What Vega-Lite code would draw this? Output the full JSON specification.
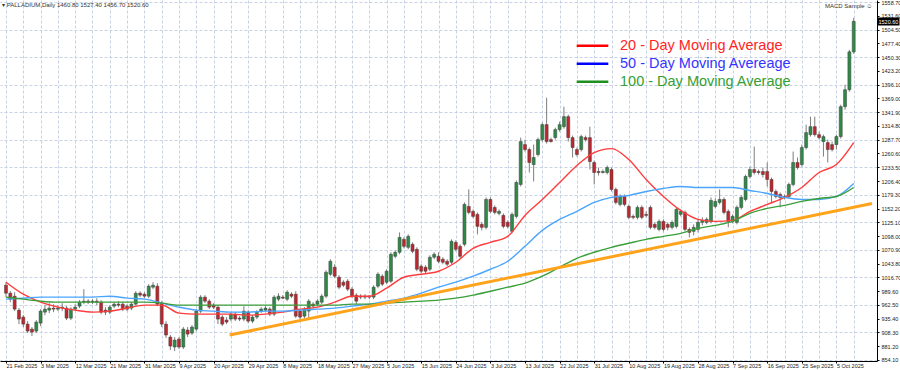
{
 "$schema": "https://vega.github.io/schema/vega-lite/v6.json",
 "width": 877,
 "height": 361,
 "autosize": "none",
 "padding": {"left": 0, "top": 0, "right": 23, "bottom": 9},
 "background": "white",
 "config": {"view": {"stroke": null}, "font": "Liberation Sans"},
 "title": {"text": "▾ PALLADIUM,Daily  1460.80 1527.40 1456.70 1520.60", "anchor": "start", "offset": -8, "fontSize": 6, "fontWeight": "normal", "color": "#333333", "dx": 2},
 "datasets": {
  "bars": [
   {"i":0,"d":"02-21","o":1001.3,"h":1007.2,"l":977.8,"c":985.6},
   {"i":1,"d":"02-23","o":985.6,"h":989.5,"l":967.9,"c":973.8},
   {"i":2,"d":"02-24","o":979.7,"h":987.6,"l":950.3,"c":954.2},
   {"i":3,"d":"02-25","o":952.2,"h":956.2,"l":924.7,"c":934.6},
   {"i":4,"d":"02-26","o":938.5,"h":942.4,"l":918.9,"c":924.7},
   {"i":5,"d":"02-27","o":924.7,"h":930.6,"l":907.1,"c":911.0},
   {"i":6,"d":"02-28","o":914.9,"h":918.9,"l":901.2,"c":909.0},
   {"i":7,"d":"03-02","o":911.0,"h":932.6,"l":907.1,"c":928.7},
   {"i":8,"d":"03-03","o":926.7,"h":954.2,"l":920.8,"c":950.3},
   {"i":9,"d":"03-04","o":948.3,"h":962.0,"l":942.4,"c":954.2},
   {"i":10,"d":"03-05","o":952.2,"h":966.0,"l":946.3,"c":956.2},
   {"i":11,"d":"03-06","o":956.2,"h":964.0,"l":948.3,"c":954.2},
   {"i":12,"d":"03-07","o":954.2,"h":962.0,"l":950.3,"c":956.2},
   {"i":13,"d":"03-09","o":956.2,"h":966.0,"l":950.3,"c":958.1},
   {"i":14,"d":"03-10","o":956.2,"h":960.1,"l":932.6,"c":936.5},
   {"i":15,"d":"03-11","o":936.5,"h":958.1,"l":932.6,"c":954.2},
   {"i":16,"d":"03-12","o":954.2,"h":964.0,"l":950.3,"c":958.1},
   {"i":17,"d":"03-13","o":960.1,"h":971.9,"l":956.2,"c":967.9},
   {"i":18,"d":"03-14","o":967.9,"h":993.5,"l":964.0,"c":969.9},
   {"i":19,"d":"03-16","o":969.9,"h":973.8,"l":964.0,"c":967.9},
   {"i":20,"d":"03-17","o":967.9,"h":973.8,"l":964.0,"c":969.9},
   {"i":21,"d":"03-18","o":969.9,"h":975.8,"l":962.0,"c":967.9},
   {"i":22,"d":"03-19","o":967.9,"h":971.9,"l":944.4,"c":948.3},
   {"i":23,"d":"03-20","o":952.2,"h":958.1,"l":942.4,"c":948.3},
   {"i":24,"d":"03-21","o":948.3,"h":962.0,"l":944.4,"c":958.1},
   {"i":25,"d":"03-23","o":960.1,"h":967.9,"l":956.2,"c":964.0},
   {"i":26,"d":"03-24","o":964.0,"h":969.9,"l":958.1,"c":962.0},
   {"i":27,"d":"03-25","o":964.0,"h":967.9,"l":950.3,"c":954.2},
   {"i":28,"d":"03-26","o":960.1,"h":964.0,"l":950.3,"c":954.2},
   {"i":29,"d":"03-27","o":956.2,"h":967.9,"l":952.2,"c":964.0},
   {"i":30,"d":"03-28","o":964.0,"h":989.5,"l":962.0,"c":985.6},
   {"i":31,"d":"03-30","o":985.6,"h":989.5,"l":977.8,"c":981.7},
   {"i":32,"d":"03-31","o":983.6,"h":987.6,"l":975.8,"c":979.7},
   {"i":33,"d":"04-01","o":979.7,"h":1003.3,"l":975.8,"c":999.4},
   {"i":34,"d":"04-02","o":997.4,"h":1007.2,"l":993.5,"c":1001.3},
   {"i":35,"d":"04-03","o":999.4,"h":1005.3,"l":960.1,"c":964.0},
   {"i":36,"d":"04-04","o":966.0,"h":969.9,"l":918.9,"c":924.7},
   {"i":37,"d":"04-06","o":924.7,"h":930.6,"l":897.3,"c":903.2},
   {"i":38,"d":"04-07","o":899.2,"h":903.2,"l":873.7,"c":881.5},
   {"i":39,"d":"04-08","o":879.6,"h":899.2,"l":871.7,"c":893.3},
   {"i":40,"d":"04-09","o":895.3,"h":899.2,"l":875.7,"c":879.6},
   {"i":41,"d":"04-10","o":879.6,"h":918.9,"l":875.7,"c":914.9},
   {"i":42,"d":"04-11","o":913.0,"h":918.9,"l":899.2,"c":905.1},
   {"i":43,"d":"04-13","o":907.1,"h":922.8,"l":903.2,"c":918.9},
   {"i":44,"d":"04-14","o":914.9,"h":954.2,"l":911.0,"c":950.3},
   {"i":45,"d":"04-15","o":950.3,"h":981.7,"l":946.3,"c":977.8},
   {"i":46,"d":"04-16","o":977.8,"h":981.7,"l":966.0,"c":969.9},
   {"i":47,"d":"04-17","o":969.9,"h":973.8,"l":954.2,"c":958.1},
   {"i":48,"d":"04-20","o":962.0,"h":966.0,"l":954.2,"c":958.1},
   {"i":49,"d":"04-21","o":958.1,"h":962.0,"l":924.7,"c":934.6},
   {"i":50,"d":"04-22","o":938.5,"h":942.4,"l":920.8,"c":924.7},
   {"i":51,"d":"04-23","o":932.6,"h":938.5,"l":924.7,"c":928.7},
   {"i":52,"d":"04-24","o":934.6,"h":948.3,"l":930.6,"c":944.4},
   {"i":53,"d":"04-25","o":944.4,"h":948.3,"l":930.6,"c":934.6},
   {"i":54,"d":"04-27","o":936.5,"h":940.4,"l":930.6,"c":934.6},
   {"i":55,"d":"04-28","o":934.6,"h":960.1,"l":930.6,"c":950.3},
   {"i":56,"d":"04-29","o":948.3,"h":952.2,"l":926.7,"c":930.6},
   {"i":57,"d":"04-30","o":930.6,"h":942.4,"l":926.7,"c":938.5},
   {"i":58,"d":"05-01","o":938.5,"h":952.2,"l":934.6,"c":948.3},
   {"i":59,"d":"05-02","o":950.3,"h":958.1,"l":946.3,"c":954.2},
   {"i":60,"d":"05-04","o":952.2,"h":960.1,"l":948.3,"c":956.2},
   {"i":61,"d":"05-05","o":954.2,"h":958.1,"l":940.4,"c":944.4},
   {"i":62,"d":"05-06","o":944.4,"h":981.7,"l":940.4,"c":977.8},
   {"i":63,"d":"05-07","o":973.8,"h":985.6,"l":969.9,"c":979.7},
   {"i":64,"d":"05-08","o":977.8,"h":981.7,"l":973.8,"c":975.8},
   {"i":65,"d":"05-09","o":973.8,"h":991.5,"l":969.9,"c":987.6},
   {"i":66,"d":"05-11","o":983.6,"h":987.6,"l":975.8,"c":979.7},
   {"i":67,"d":"05-12","o":983.6,"h":989.5,"l":936.5,"c":940.4},
   {"i":68,"d":"05-13","o":950.3,"h":954.2,"l":932.6,"c":938.5},
   {"i":69,"d":"05-14","o":940.4,"h":958.1,"l":936.5,"c":954.2},
   {"i":70,"d":"05-15","o":950.3,"h":973.8,"l":934.6,"c":969.9},
   {"i":71,"d":"05-16","o":964.0,"h":967.9,"l":956.2,"c":960.1},
   {"i":72,"d":"05-18","o":964.0,"h":973.8,"l":960.1,"c":969.9},
   {"i":73,"d":"05-19","o":967.9,"h":983.6,"l":964.0,"c":979.7},
   {"i":74,"d":"05-20","o":979.7,"h":1030.8,"l":975.8,"c":1026.8},
   {"i":75,"d":"05-21","o":1022.9,"h":1052.4,"l":1019.0,"c":1048.4},
   {"i":76,"d":"05-22","o":1036.7,"h":1042.6,"l":1015.1,"c":1019.0},
   {"i":77,"d":"05-23","o":1017.0,"h":1021.0,"l":993.5,"c":997.4},
   {"i":78,"d":"05-25","o":1007.2,"h":1011.2,"l":997.4,"c":1001.3},
   {"i":79,"d":"05-26","o":1009.2,"h":1013.1,"l":989.5,"c":993.5},
   {"i":80,"d":"05-27","o":993.5,"h":997.4,"l":975.8,"c":979.7},
   {"i":81,"d":"05-28","o":981.7,"h":985.6,"l":964.0,"c":969.9},
   {"i":82,"d":"05-29","o":979.7,"h":983.6,"l":973.8,"c":977.8},
   {"i":83,"d":"05-30","o":977.8,"h":983.6,"l":973.8,"c":979.7},
   {"i":84,"d":"06-01","o":979.7,"h":981.7,"l":973.8,"c":977.8},
   {"i":85,"d":"06-02","o":977.8,"h":1001.3,"l":973.8,"c":997.4},
   {"i":86,"d":"06-03","o":999.4,"h":1026.8,"l":995.4,"c":1022.9},
   {"i":87,"d":"06-04","o":1019.0,"h":1022.9,"l":999.4,"c":1003.3},
   {"i":88,"d":"06-05","o":1007.2,"h":1032.7,"l":1003.3,"c":1028.8},
   {"i":89,"d":"06-06","o":1009.2,"h":1066.1,"l":1005.3,"c":1062.2},
   {"i":90,"d":"06-08","o":1058.2,"h":1070.0,"l":1054.3,"c":1066.1},
   {"i":91,"d":"06-09","o":1066.1,"h":1105.3,"l":1062.2,"c":1095.5},
   {"i":92,"d":"06-10","o":1091.6,"h":1095.5,"l":1073.9,"c":1077.9},
   {"i":93,"d":"06-11","o":1075.9,"h":1101.4,"l":1072.0,"c":1097.5},
   {"i":94,"d":"06-12","o":1081.8,"h":1085.7,"l":1064.1,"c":1068.1},
   {"i":95,"d":"06-13","o":1072.0,"h":1075.9,"l":1028.8,"c":1032.7},
   {"i":96,"d":"06-15","o":1038.6,"h":1042.6,"l":1024.9,"c":1028.8},
   {"i":97,"d":"06-16","o":1036.7,"h":1040.6,"l":1024.9,"c":1028.8},
   {"i":98,"d":"06-17","o":1032.7,"h":1060.2,"l":1028.8,"c":1056.3},
   {"i":99,"d":"06-18","o":1056.3,"h":1066.1,"l":1052.4,"c":1062.2},
   {"i":100,"d":"06-19","o":1058.2,"h":1066.1,"l":1044.5,"c":1048.4},
   {"i":101,"d":"06-20","o":1052.4,"h":1056.3,"l":1042.6,"c":1046.5},
   {"i":102,"d":"06-22","o":1048.4,"h":1052.4,"l":1038.6,"c":1042.6},
   {"i":103,"d":"06-23","o":1046.5,"h":1091.6,"l":1042.6,"c":1087.7},
   {"i":104,"d":"06-24","o":1085.7,"h":1089.7,"l":1068.1,"c":1072.0},
   {"i":105,"d":"06-25","o":1077.9,"h":1081.8,"l":1054.3,"c":1058.2},
   {"i":106,"d":"06-26","o":1081.8,"h":1164.2,"l":1077.9,"c":1160.3},
   {"i":107,"d":"06-27","o":1156.4,"h":1189.8,"l":1140.7,"c":1144.6},
   {"i":108,"d":"06-29","o":1146.6,"h":1150.5,"l":1132.8,"c":1136.8},
   {"i":109,"d":"06-30","o":1140.7,"h":1144.6,"l":1101.4,"c":1117.1},
   {"i":110,"d":"07-01","o":1121.1,"h":1125.0,"l":1109.3,"c":1115.2},
   {"i":111,"d":"07-02","o":1115.2,"h":1174.1,"l":1111.2,"c":1170.1},
   {"i":112,"d":"07-03","o":1170.1,"h":1174.1,"l":1142.7,"c":1146.6},
   {"i":113,"d":"07-04","o":1154.4,"h":1158.4,"l":1140.7,"c":1144.6},
   {"i":114,"d":"07-06","o":1142.7,"h":1150.5,"l":1138.7,"c":1146.6},
   {"i":115,"d":"07-07","o":1138.7,"h":1142.7,"l":1113.2,"c":1117.1},
   {"i":116,"d":"07-08","o":1125.0,"h":1128.9,"l":1113.2,"c":1117.1},
   {"i":117,"d":"07-09","o":1107.3,"h":1144.6,"l":1103.4,"c":1140.7},
   {"i":118,"d":"07-10","o":1136.8,"h":1207.4,"l":1132.8,"c":1203.5},
   {"i":119,"d":"07-11","o":1199.6,"h":1291.8,"l":1195.7,"c":1284.0},
   {"i":120,"d":"07-13","o":1278.1,"h":1287.9,"l":1264.4,"c":1268.3},
   {"i":121,"d":"07-14","o":1268.3,"h":1272.2,"l":1223.1,"c":1242.8},
   {"i":122,"d":"07-15","o":1238.8,"h":1278.1,"l":1205.5,"c":1252.6},
   {"i":123,"d":"07-16","o":1258.5,"h":1291.8,"l":1254.5,"c":1287.9},
   {"i":124,"d":"07-17","o":1287.9,"h":1321.3,"l":1284.0,"c":1317.4},
   {"i":125,"d":"07-18","o":1317.4,"h":1370.4,"l":1280.1,"c":1284.0},
   {"i":126,"d":"07-20","o":1287.9,"h":1291.8,"l":1282.0,"c":1284.0},
   {"i":127,"d":"07-21","o":1291.8,"h":1311.5,"l":1287.9,"c":1307.6},
   {"i":128,"d":"07-22","o":1307.6,"h":1323.3,"l":1303.6,"c":1317.4},
   {"i":129,"d":"07-23","o":1313.4,"h":1352.7,"l":1309.5,"c":1333.1},
   {"i":130,"d":"07-24","o":1333.1,"h":1337.0,"l":1284.0,"c":1291.8},
   {"i":131,"d":"07-25","o":1291.8,"h":1295.8,"l":1252.6,"c":1272.2},
   {"i":132,"d":"07-27","o":1268.3,"h":1272.2,"l":1254.5,"c":1258.5},
   {"i":133,"d":"07-28","o":1268.3,"h":1297.7,"l":1264.4,"c":1293.8},
   {"i":134,"d":"07-29","o":1291.8,"h":1295.8,"l":1284.0,"c":1287.9},
   {"i":135,"d":"07-30","o":1291.8,"h":1313.4,"l":1229.0,"c":1244.7},
   {"i":136,"d":"07-31","o":1242.8,"h":1246.7,"l":1199.6,"c":1223.1},
   {"i":137,"d":"08-01","o":1225.1,"h":1232.9,"l":1217.3,"c":1223.1},
   {"i":138,"d":"08-03","o":1223.1,"h":1229.0,"l":1221.2,"c":1225.1},
   {"i":139,"d":"08-04","o":1223.1,"h":1236.9,"l":1219.2,"c":1232.9},
   {"i":140,"d":"08-05","o":1229.0,"h":1232.9,"l":1185.8,"c":1189.8},
   {"i":141,"d":"08-06","o":1189.8,"h":1193.7,"l":1160.3,"c":1164.2},
   {"i":142,"d":"08-07","o":1160.3,"h":1180.0,"l":1156.4,"c":1176.0},
   {"i":143,"d":"08-08","o":1176.0,"h":1180.0,"l":1156.4,"c":1160.3},
   {"i":144,"d":"08-10","o":1156.4,"h":1160.3,"l":1130.9,"c":1134.8},
   {"i":145,"d":"08-11","o":1136.8,"h":1140.7,"l":1130.9,"c":1134.8},
   {"i":146,"d":"08-12","o":1134.8,"h":1158.4,"l":1130.9,"c":1154.4},
   {"i":147,"d":"08-13","o":1154.4,"h":1158.4,"l":1130.9,"c":1134.8},
   {"i":148,"d":"08-14","o":1140.7,"h":1146.6,"l":1134.8,"c":1138.7},
   {"i":149,"d":"08-15","o":1154.4,"h":1158.4,"l":1111.2,"c":1115.2},
   {"i":150,"d":"08-17","o":1121.1,"h":1125.0,"l":1111.2,"c":1115.2},
   {"i":151,"d":"08-18","o":1111.2,"h":1130.9,"l":1107.3,"c":1126.9},
   {"i":152,"d":"08-19","o":1126.9,"h":1130.9,"l":1107.3,"c":1111.2},
   {"i":153,"d":"08-20","o":1121.1,"h":1125.0,"l":1109.3,"c":1115.2},
   {"i":154,"d":"08-21","o":1115.2,"h":1128.9,"l":1111.2,"c":1125.0},
   {"i":155,"d":"08-22","o":1117.1,"h":1154.4,"l":1113.2,"c":1150.5},
   {"i":156,"d":"08-24","o":1140.7,"h":1150.5,"l":1136.8,"c":1146.6},
   {"i":157,"d":"08-25","o":1144.6,"h":1148.5,"l":1107.3,"c":1111.2},
   {"i":158,"d":"08-26","o":1111.2,"h":1115.2,"l":1095.5,"c":1105.3},
   {"i":159,"d":"08-27","o":1107.3,"h":1121.1,"l":1099.5,"c":1115.2},
   {"i":160,"d":"08-28","o":1111.2,"h":1130.9,"l":1105.3,"c":1125.0},
   {"i":161,"d":"08-29","o":1125.0,"h":1134.8,"l":1119.1,"c":1128.9},
   {"i":162,"d":"08-31","o":1125.0,"h":1134.8,"l":1121.1,"c":1130.9},
   {"i":163,"d":"09-01","o":1126.9,"h":1174.1,"l":1123.0,"c":1168.2},
   {"i":164,"d":"09-02","o":1156.4,"h":1172.1,"l":1152.5,"c":1166.2},
   {"i":165,"d":"09-03","o":1164.2,"h":1189.8,"l":1160.3,"c":1170.1},
   {"i":166,"d":"09-04","o":1170.1,"h":1174.1,"l":1140.7,"c":1144.6},
   {"i":167,"d":"09-05","o":1146.6,"h":1150.5,"l":1115.2,"c":1126.9},
   {"i":168,"d":"09-07","o":1126.9,"h":1140.7,"l":1123.0,"c":1136.8},
   {"i":169,"d":"09-08","o":1125.0,"h":1158.4,"l":1121.1,"c":1154.4},
   {"i":170,"d":"09-09","o":1154.4,"h":1178.0,"l":1150.5,"c":1174.1},
   {"i":171,"d":"09-10","o":1170.1,"h":1219.2,"l":1166.2,"c":1215.3},
   {"i":172,"d":"09-11","o":1215.3,"h":1234.9,"l":1211.4,"c":1229.0},
   {"i":173,"d":"09-12","o":1229.0,"h":1274.2,"l":1219.2,"c":1223.1},
   {"i":174,"d":"09-14","o":1225.1,"h":1229.0,"l":1219.2,"c":1223.1},
   {"i":175,"d":"09-15","o":1225.1,"h":1232.9,"l":1213.3,"c":1219.2},
   {"i":176,"d":"09-16","o":1225.1,"h":1242.8,"l":1195.7,"c":1209.4},
   {"i":177,"d":"09-17","o":1209.4,"h":1213.3,"l":1164.2,"c":1185.8},
   {"i":178,"d":"09-18","o":1185.8,"h":1189.8,"l":1172.1,"c":1176.0},
   {"i":179,"d":"09-19","o":1180.0,"h":1183.9,"l":1154.4,"c":1174.1},
   {"i":180,"d":"09-21","o":1174.1,"h":1180.0,"l":1170.1,"c":1176.0},
   {"i":181,"d":"09-22","o":1176.0,"h":1203.5,"l":1172.1,"c":1199.6},
   {"i":182,"d":"09-23","o":1199.6,"h":1264.4,"l":1195.7,"c":1242.8},
   {"i":183,"d":"09-24","o":1242.8,"h":1252.6,"l":1229.0,"c":1232.9},
   {"i":184,"d":"09-25","o":1238.8,"h":1278.1,"l":1234.9,"c":1272.2},
   {"i":185,"d":"09-26","o":1272.2,"h":1317.4,"l":1268.3,"c":1301.7},
   {"i":186,"d":"09-28","o":1297.7,"h":1333.1,"l":1293.8,"c":1313.4},
   {"i":187,"d":"09-29","o":1313.4,"h":1333.1,"l":1293.8,"c":1297.7},
   {"i":188,"d":"09-30","o":1297.7,"h":1303.6,"l":1287.9,"c":1291.8},
   {"i":189,"d":"10-01","o":1284.0,"h":1297.7,"l":1254.5,"c":1293.8},
   {"i":190,"d":"10-02","o":1282.0,"h":1287.9,"l":1242.8,"c":1268.3},
   {"i":191,"d":"10-03","o":1278.1,"h":1284.0,"l":1264.4,"c":1268.3},
   {"i":192,"d":"10-05","o":1278.1,"h":1297.7,"l":1268.3,"c":1293.8},
   {"i":193,"d":"10-06","o":1293.8,"h":1356.6,"l":1289.9,"c":1352.7},
   {"i":194,"d":"10-07","o":1352.7,"h":1395.9,"l":1346.8,"c":1386.1},
   {"i":195,"d":"10-08","o":1386.1,"h":1464.6,"l":1382.1,"c":1460.7},
   {"i":196,"d":"10-09","o":1460.7,"h":1527.4,"l":1456.7,"c":1520.6}
  ],
  "ma": [
   {"i":0,"s":"20","v":1007.2},{"i":4,"s":"20","v":983.6},{"i":8,"s":"20","v":967.9},{"i":12,"s":"20","v":958.1},{"i":16,"s":"20","v":952.2},{"i":20,"s":"20","v":948.3},{"i":24,"s":"20","v":950.3},{"i":28,"s":"20","v":956.2},{"i":32,"s":"20","v":962.0},{"i":36,"s":"20","v":962.0},{"i":40,"s":"20","v":946.3},{"i":44,"s":"20","v":944.4},{"i":48,"s":"20","v":944.4},{"i":52,"s":"20","v":944.4},{"i":56,"s":"20","v":942.4},{"i":60,"s":"20","v":944.4},{"i":64,"s":"20","v":948.3},{"i":68,"s":"20","v":954.2},{"i":72,"s":"20","v":958.1},{"i":76,"s":"20","v":967.9},{"i":80,"s":"20","v":979.7},{"i":84,"s":"20","v":979.7},{"i":88,"s":"20","v":995.4},{"i":92,"s":"20","v":1017.0},{"i":96,"s":"20","v":1022.9},{"i":100,"s":"20","v":1028.8},{"i":104,"s":"20","v":1046.5},{"i":108,"s":"20","v":1073.9},{"i":112,"s":"20","v":1085.7},{"i":116,"s":"20","v":1097.5},{"i":120,"s":"20","v":1138.7},{"i":124,"s":"20","v":1170.1},{"i":128,"s":"20","v":1203.5},{"i":132,"s":"20","v":1236.9},{"i":136,"s":"20","v":1262.4},{"i":140,"s":"20","v":1270.2},{"i":144,"s":"20","v":1248.7},{"i":148,"s":"20","v":1209.4},{"i":152,"s":"20","v":1176.0},{"i":156,"s":"20","v":1148.5},{"i":160,"s":"20","v":1130.9},{"i":164,"s":"20","v":1126.9},{"i":168,"s":"20","v":1128.9},{"i":172,"s":"20","v":1146.6},{"i":176,"s":"20","v":1160.3},{"i":180,"s":"20","v":1174.1},{"i":184,"s":"20","v":1193.7},{"i":188,"s":"20","v":1223.1},{"i":192,"s":"20","v":1238.8},{"i":196,"s":"20","v":1282.0},
   {"i":0,"s":"50","v":973.8},{"i":4,"s":"50","v":975.8},{"i":8,"s":"50","v":977.8},{"i":12,"s":"50","v":977.8},{"i":16,"s":"50","v":977.8},{"i":20,"s":"50","v":977.8},{"i":24,"s":"50","v":979.7},{"i":28,"s":"50","v":975.8},{"i":32,"s":"50","v":973.8},{"i":36,"s":"50","v":966.0},{"i":40,"s":"50","v":958.1},{"i":44,"s":"50","v":952.2},{"i":48,"s":"50","v":950.3},{"i":52,"s":"50","v":948.3},{"i":56,"s":"50","v":948.3},{"i":60,"s":"50","v":950.3},{"i":64,"s":"50","v":950.3},{"i":68,"s":"50","v":952.2},{"i":72,"s":"50","v":954.2},{"i":76,"s":"50","v":956.2},{"i":80,"s":"50","v":960.1},{"i":84,"s":"50","v":964.0},{"i":88,"s":"50","v":969.9},{"i":92,"s":"50","v":975.8},{"i":96,"s":"50","v":985.6},{"i":100,"s":"50","v":997.4},{"i":104,"s":"50","v":1007.2},{"i":108,"s":"50","v":1019.0},{"i":112,"s":"50","v":1032.7},{"i":116,"s":"50","v":1048.4},{"i":120,"s":"50","v":1077.9},{"i":124,"s":"50","v":1109.3},{"i":128,"s":"50","v":1130.9},{"i":132,"s":"50","v":1146.6},{"i":136,"s":"50","v":1164.2},{"i":140,"s":"50","v":1174.1},{"i":144,"s":"50","v":1178.0},{"i":148,"s":"50","v":1185.8},{"i":152,"s":"50","v":1191.7},{"i":156,"s":"50","v":1195.7},{"i":160,"s":"50","v":1193.7},{"i":164,"s":"50","v":1193.7},{"i":168,"s":"50","v":1193.7},{"i":172,"s":"50","v":1187.8},{"i":176,"s":"50","v":1181.9},{"i":180,"s":"50","v":1174.1},{"i":184,"s":"50","v":1170.1},{"i":188,"s":"50","v":1170.1},{"i":192,"s":"50","v":1176.0},{"i":196,"s":"50","v":1201.6},
   {"i":0,"s":"100","v":977.8},{"i":4,"s":"100","v":973.8},{"i":8,"s":"100","v":969.9},{"i":12,"s":"100","v":967.9},{"i":16,"s":"100","v":967.9},{"i":20,"s":"100","v":967.9},{"i":24,"s":"100","v":967.9},{"i":28,"s":"100","v":967.9},{"i":32,"s":"100","v":967.9},{"i":36,"s":"100","v":966.0},{"i":40,"s":"100","v":962.0},{"i":44,"s":"100","v":962.0},{"i":48,"s":"100","v":962.0},{"i":52,"s":"100","v":962.0},{"i":56,"s":"100","v":962.0},{"i":60,"s":"100","v":962.0},{"i":64,"s":"100","v":962.0},{"i":68,"s":"100","v":962.0},{"i":72,"s":"100","v":962.0},{"i":76,"s":"100","v":962.0},{"i":80,"s":"100","v":964.0},{"i":84,"s":"100","v":964.0},{"i":88,"s":"100","v":966.0},{"i":92,"s":"100","v":967.9},{"i":96,"s":"100","v":969.9},{"i":100,"s":"100","v":971.9},{"i":104,"s":"100","v":975.8},{"i":108,"s":"100","v":981.7},{"i":112,"s":"100","v":989.5},{"i":116,"s":"100","v":997.4},{"i":120,"s":"100","v":1005.3},{"i":124,"s":"100","v":1019.0},{"i":128,"s":"100","v":1036.7},{"i":132,"s":"100","v":1054.3},{"i":136,"s":"100","v":1066.1},{"i":140,"s":"100","v":1075.9},{"i":144,"s":"100","v":1083.8},{"i":148,"s":"100","v":1091.6},{"i":152,"s":"100","v":1097.5},{"i":156,"s":"100","v":1103.4},{"i":160,"s":"100","v":1113.2},{"i":164,"s":"100","v":1119.1},{"i":168,"s":"100","v":1126.9},{"i":172,"s":"100","v":1142.7},{"i":176,"s":"100","v":1152.5},{"i":180,"s":"100","v":1158.4},{"i":184,"s":"100","v":1166.2},{"i":188,"s":"100","v":1172.1},{"i":192,"s":"100","v":1176.0},{"i":196,"s":"100","v":1193.7}
  ],
  "trend": [
   {"i": 51.7, "v": 903.2},
   {"i": 200.23, "v": 1162.3}
  ]
 },
 "layer": [
  {
   "data": {"name": "bars"},
   "mark": {"type": "rule", "color": "#7d7d7d", "strokeWidth": 1},
   "encoding": {
    "x": {"field": "i", "type": "quantitative",
     "scale": {"domain": [-0.23, 200.23], "nice": false, "zero": false},
     "axis": {"orient": "bottom", "title": null,
      "values": [0,4,8,12,16,20,24,28,32,36,40,44,48,52,56,60,64,68,72,76,80,84,88,92,96,100,104,108,112,116,120,124,128,132,136,140,144,148,152,156,160,164,168,172,176,180,184,188,192,196],
      "grid": true, "gridColor": "#c6d1e3", "gridDash": [3, 2], "gridWidth": 1,
      "domainColor": "#000000", "domainWidth": 1,
      "tickColor": "#000000", "tickSize": 2,
      "tickOpacity": {"condition": {"test": "datum.value % 8 === 0", "value": 1}, "value": 0},
      "labelExpr": "datum.value % 8 === 0 ? ['21 Feb 2025','3 Mar 2025','12 Mar 2025','21 Mar 2025','31 Mar 2025','9 Apr 2025','20 Apr 2025','29 Apr 2025','8 May 2025','18 May 2025','27 May 2025','5 Jun 2025','15 Jun 2025','24 Jun 2025','3 Jul 2025','13 Jul 2025','22 Jul 2025','31 Jul 2025','10 Aug 2025','19 Aug 2025','28 Aug 2025','7 Sep 2025','16 Sep 2025','25 Sep 2025','5 Oct 2025'][datum.value / 8] : ''",
      "labelAlign": "left", "labelBaseline": "top", "labelPadding": 0,
      "labelFontSize": 5.5, "labelColor": "#222222",
      "labelOverlap": false, "labelBound": false, "labelFlush": false}
    },
    "y": {"field": "l", "type": "quantitative",
     "scale": {"domain": [852.1, 1562.7], "nice": false, "zero": false},
     "axis": {"orient": "right", "title": null,
      "values": [854.1, 881.2, 908.3, 935.4, 962.5, 989.6, 1016.7, 1043.8, 1070.9, 1098, 1125.1, 1152.2, 1179.3, 1206.4, 1233.5, 1260.6, 1287.7, 1314.8, 1341.9, 1369, 1396.1, 1423.2, 1450.3, 1477.4, 1504.5, 1531.6, 1558.7],
      "format": ".2f",
      "grid": true, "gridColor": "#c6d1e3", "gridDash": [3, 2], "gridWidth": 1,
      "gridOpacity": {"condition": {"test": "round((datum.value - 854.1) / 27.1) % 2 === 0", "value": 1}, "value": 0},
      "domainColor": "#000000", "domainWidth": 1,
      "tickColor": "#000000", "tickSize": 2,
      "labelPadding": 2, "labelFontSize": 5.5, "labelColor": "#222222",
      "labelAlign": "left", "labelBaseline": "middle",
      "labelOverlap": false, "labelBound": false, "labelFlush": false}
    },
    "y2": {"field": "h"}
   }
  },
  {
   "data": {"name": "bars"},
   "mark": {"type": "bar", "size": 3, "stroke": "#3c3c3c", "strokeWidth": 0.5},
   "encoding": {
    "x": {"field": "i", "type": "quantitative", "axis": null},
    "y": {"field": "o", "type": "quantitative", "axis": null},
    "y2": {"field": "c"},
    "fill": {"condition": {"test": "datum.c >= datum.o", "value": "#2e8b47"}, "value": "#c0262d"}
   }
  },
  {
   "data": {"name": "ma"},
   "mark": {"type": "line", "strokeWidth": 1.4, "interpolate": "monotone", "clip": true},
   "encoding": {
    "x": {"field": "i", "type": "quantitative", "axis": null},
    "y": {"field": "v", "type": "quantitative",
     "axis": {"orient": "right", "title": null, "values": [1520.6], "format": ".2f",
      "grid": false, "domain": false, "ticks": true,
      "tickSize": 22, "tickWidth": 8, "tickColor": "#000000",
      "labelColor": "#ffffff", "labelPadding": -21, "labelFontSize": 5.5,
      "labelAlign": "left", "labelBaseline": "middle",
      "labelOverlap": false, "labelBound": false, "labelFlush": false}
    },
    "color": {"field": "s", "type": "nominal",
     "scale": {"domain": ["20", "50", "100"], "range": ["#ff3c3c", "#4aa5ff", "#3a9f3a"]},
     "legend": null}
   }
  },
  {
   "data": {"name": "ma"},
   "mark": {"type": "line", "strokeWidth": 2.5, "opacity": 0, "clip": true},
   "encoding": {
    "x": {"field": "i", "type": "quantitative", "axis": null},
    "y": {"field": "v", "type": "quantitative", "axis": null},
    "color": {"field": "s", "type": "nominal",
     "scale": {"domain": ["20", "50", "100"], "range": ["#ff0000", "#0000ff", "#1f8f1f"]},
     "legend": {"title": null, "orient": "none", "legendX": 575, "legendY": 37,
      "direction": "vertical", "symbolType": "stroke", "symbolSize": 1000,
      "symbolStrokeWidth": 2.5, "symbolOpacity": 1, "clipHeight": 17.5, "rowPadding": 0, "padding": 0,
      "labelOffset": 10, "labelFontSize": 14.5, "labelFont": "Liberation Sans", "labelLimit": 400,
      "labelExpr": "datum.value === '20' ? '20 - Day Moving Average' : datum.value === '50' ? '50 - Day Moving Avereage' : '100 - Day Moving Average'",
      "encode": {
       "labels": {"update": {"fill": {"signal": "datum.value === '20' ? '#ff2424' : datum.value === '50' ? '#3434ff' : '#34a034'"}}}
      }
     }
    }
   }
  },
  {
   "data": {"name": "trend"},
   "mark": {"type": "line", "color": "#ffa31a", "strokeWidth": 3, "clip": true},
   "encoding": {
    "x": {"field": "i", "type": "quantitative",
     "axis": {"orient": "top", "title": "MACD Sample ☺", "labels": false, "ticks": false, "domain": false, "grid": false,
      "titleAnchor": "end", "titleAlign": "right", "titleFontSize": 6, "titleFontWeight": "normal",
      "titleColor": "#333333", "titleX": 872, "titleY": 8, "titleBaseline": "bottom"}
    },
    "y": {"field": "v", "type": "quantitative", "axis": null}
   }
  }
 ],
 "resolve": {"axis": {"x": "independent", "y": "independent"}, "scale": {"color": "independent"}, "legend": {"color": "independent"}}
}
